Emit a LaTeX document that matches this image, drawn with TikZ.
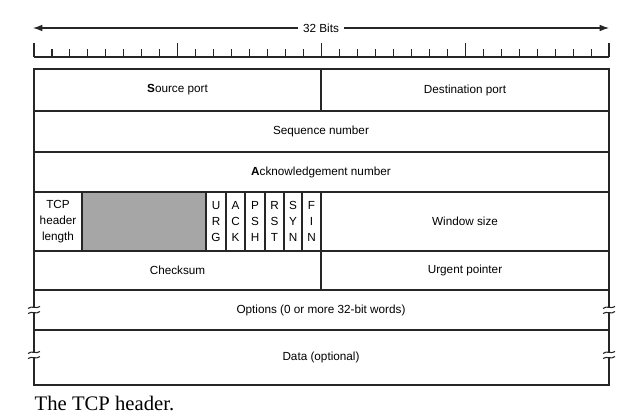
\documentclass[tikz,border=0pt]{standalone}
\usepackage{fontspec}
\setmainfont{Liberation Sans}
\newfontfamily\capfont{Liberation Serif}
\usetikzlibrary{arrows.meta}

\tikzset{
  campo/.style={font=\fontsize{8.8}{12}\selectfont, align=center, inner sep=0pt},
  regla/.style={line width=0.8pt},
  rotura/.style={line width=0.8pt},
}

\begin{document}
\begin{tikzpicture}[x=0.75pt,y=-0.75pt,line width=1.1pt,draw=black!85]
  \useasboundingbox[fill=white] (0,0) rectangle (632,417);

  % Flecha de 32 bits
  \node[campo, fill=white, inner xsep=3pt] (bits) at (321,28) {32 Bits};
  \coordinate (izq) at (33,28);
  \coordinate (der) at (609,28);
  \draw[regla,-{Latex[length=7pt,width=5pt]}] (bits) -- (izq);
  \draw[regla,-{Latex[length=7pt,width=5pt]}] (bits) -- (der);

  % Regla con marcas
  \draw[regla] (34,57) -- (609,57);
  \foreach \i in {0,...,32} {
    \pgfmathtruncatemacro\r{mod(\i,8)}
    \ifnum\r=0
      \draw[regla] (34+\i*17.96875,57) -- (34+\i*17.96875,43);
    \else
      \draw[regla] (34+\i*17.96875,57) -- (34+\i*17.96875,49);
    \fi
  }

  % Zona sombreada (reservado)
  \fill[black!35] (82,192) rectangle (206,251);

  % Marco y filas
  \draw (34,69) rectangle (609,385);
  \foreach \y in {111,152,192,251,290,330}
    \draw (34,\y) -- (609,\y);
  \draw (321,69) -- (321,111);
  \draw (321,192) -- (321,290);
  \foreach \x in {82,206,226,245,265,284,302}
    \draw (\x,192) -- (\x,251);

  % Textos de los campos
  \node[campo] (src) at (177.5,90) {{\bfseries S}ource port};
  \node[campo] (dst) at (465,90) {Destination port};
  \node[campo] (seq) at (321,131.5) {Sequence number};
  \node[campo] (ack) at (321,172) {{\bfseries A}cknowledgement number};
  \node[campo] (hlen) at (58,221.5) {TCP\\header\\length};
  \node[campo] (urg) at (216,221.5) {U\\R\\G};
  \node[campo] (ackf) at (235.5,221.5) {A\\C\\K};
  \node[campo] (psh) at (255,221.5) {P\\S\\H};
  \node[campo] (rst) at (274.5,221.5) {R\\S\\T};
  \node[campo] (syn) at (293,221.5) {S\\Y\\N};
  \node[campo] (fin) at (311.5,221.5) {F\\I\\N};
  \node[campo] (win) at (465,221.5) {Window size};
  \node[campo] (chk) at (177.5,270.5) {Checksum};
  \node[campo] (urgp) at (465,270.5) {Urgent pointer};
  \node[campo] (opt) at (321,310) {Options (0 or more 32-bit words)};
  \node[campo] (data) at (321,357.5) {Data (optional)};

  % Marcas de corte en los lados
  \foreach \x in {34,609}
    \foreach \y in {310,355} {
      \fill[white] (\x-2,\y-2.5) rectangle (\x+2,\y+2.5);
      \draw[rotura] (\x-6,\y-1.5) .. controls (\x-2,\y-5) and (\x+2,\y-0.5) .. (\x+6,\y-3.5);
      \draw[rotura] (\x-6,\y+3.5) .. controls (\x-2,\y+0.5) and (\x+2,\y+5) .. (\x+6,\y+1.5);
    }

  % Pie de figura
  \node[anchor=base west, font=\capfont\fontsize{15.5}{18}\selectfont, inner sep=0pt] (pie) at (34,410) {The TCP header.};
\end{tikzpicture}
\end{document}
